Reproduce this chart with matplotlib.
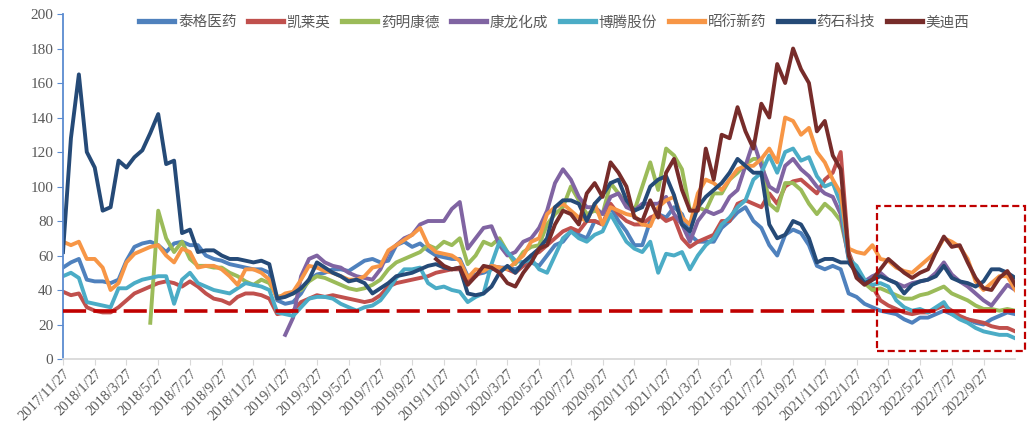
import numpy as np
import matplotlib
matplotlib.use('Agg')
import matplotlib.pyplot as plt
from matplotlib.patches import Rectangle

# ============================================================
#  Data: PE (TTM), sampled twice a month from 2017/11/27
# ============================================================

names = ['泰格医药', '凯莱英', '药明康德', '康龙化成', '博腾股份', '昭衍新药', '药石科技', '美迪西']
colors = ['#4f81bd', '#c0504d', '#9bbb59', '#8064a2', '#4bacc6', '#f79646', '#254a77', '#772c2a']

tigermed = [53, 56, 58, 46, 45, 45, 44, 46, 57, 65,
            67, 68, 66, 62, 67, 68, 66, 66, 60, 58,
            57, 55, 54, 53, 52, 52, 50, 34, 32, 33,
            38, 46, 49, 50, 52, 52, 51, 54, 57, 58,
            56, 57, 66, 68, 65, 67, 63, 60, 59, 58,
            58, 48, 49, 50, 52, 53, 53, 52, 54, 56,
            54, 60, 66, 68, 74, 72, 70, 80, 78, 88,
            80, 74, 66, 66, 80, 84, 82, 88, 84, 72,
            68, 68, 68, 76, 80, 85, 88, 80, 76, 66,
            60, 72, 75, 73, 66, 54, 52, 54, 52, 38,
            36, 32, 30, 28, 27, 26, 23, 21, 24, 24,
            26, 28, 26, 24, 23, 21, 20, 23, 25, 27, 26]

asymchem = [39, 37, 38, 30, 28, 27, 27, 30, 34, 38,
            40, 42, 44, 45, 44, 42, 45, 42, 38, 35,
            34, 32, 36, 38, 38, 37, 35, 26, 27, 28,
            33, 35, 37, 36, 37, 36, 35, 34, 33, 34,
            37, 42, 44, 45, 46, 47, 48, 50, 51, 52,
            52, 46, 48, 52, 54, 53, 52, 50, 54, 60,
            62, 66, 70, 74, 76, 74, 80, 80, 78, 90,
            84, 80, 78, 78, 82, 84, 80, 82, 70, 65,
            68, 70, 72, 80, 80, 90, 92, 90, 88, 96,
            90, 100, 103, 104, 100, 96, 104, 108, 120, 62,
            50, 44, 42, 34, 31, 29, 27, 26, 27, 27,
            29, 31, 28, 25, 23, 22, 21, 19, 18, 18, 16]

wuxi = [None] * 11 + [21, 86, 70, 62, 68, 58, 54, 54, 53,
        53, 50, 48, 45, 43, 46, 44, 36, 37, 38,
        40, 45, 48, 47, 45, 43, 41, 40, 41, 43,
        46, 52, 56, 58, 60, 62, 66, 64, 68, 66,
        70, 55, 60, 68, 66, 70, 62, 55, 62, 65,
        66, 78, 84, 88, 100, 92, 84, 86, 84, 102,
        96, 90, 86, 100, 114, 98, 122, 118, 110, 86,
        88, 86, 96, 96, 104, 108, 113, 116, 116, 90,
        86, 102, 102, 98, 90, 84, 90, 86, 80, 60,
        50, 44, 40, 41, 39, 37, 35, 35, 37, 38,
        40, 42, 38, 36, 34, 31, 29, 29, 28, 29, 28]

pharmaron = [None] * 28 + [14, 24,
             48, 58, 60, 56, 54, 53, 50, 48, 47, 46,
             52, 62, 66, 70, 72, 78, 80, 80, 80, 87,
             91, 64, 70, 76, 77, 66, 60, 62, 68, 70,
             76, 86, 102, 110, 104, 94, 88, 88, 84, 94,
             96, 88, 86, 90, 90, 90, 94, 84, 78, 68,
             80, 86, 84, 86, 94, 98, 112, 126, 112, 100,
             97, 112, 116, 110, 106, 100, 96, 94, 84, 58,
             52, 45, 48, 50, 46, 44, 42, 44, 45, 46,
             50, 56, 49, 45, 42, 38, 34, 31, 37, 43, 40]

porton = [48, 50, 47, 33, 32, 31, 30, 41, 41, 44,
          46, 47, 48, 48, 32, 46, 50, 44, 42, 40,
          39, 38, 41, 44, 43, 42, 40, 27, 26, 25,
          30, 35, 36, 36, 35, 32, 30, 28, 30, 31,
          34, 40, 47, 52, 52, 53, 44, 41, 42, 40,
          39, 33, 36, 38, 55, 68, 62, 57, 56, 58,
          52, 50, 60, 70, 74, 70, 68, 72, 74, 84,
          76, 68, 64, 62, 68, 50, 61, 60, 62, 52,
          60, 66, 70, 78, 82, 88, 92, 104, 108, 118,
          108, 120, 122, 115, 117, 106, 100, 102, 90, 58,
          54, 46, 43, 44, 42, 34, 30, 28, 29, 27,
          30, 33, 26, 23, 21, 18, 16, 15, 14, 14, 12]

joinn = [68, 66, 68, 58, 58, 53, 40, 44, 56, 61,
         63, 65, 66, 60, 56, 64, 62, 53, 54, 54,
         52, 48, 43, 52, 52, 50, 46, 35, 38, 39,
         46, 54, 53, 51, 50, 48, 46, 46, 48, 53,
         54, 63, 66, 69, 72, 76, 66, 62, 61, 60,
         57, 47, 52, 51, 54, 53, 52, 56, 60, 68,
         70, 84, 88, 90, 86, 82, 80, 90, 78, 88,
         86, 84, 83, 78, 77, 88, 92, 94, 82, 78,
         96, 104, 102, 98, 104, 110, 112, 112, 116, 122,
         114, 140, 138, 130, 134, 120, 114, 104, 96, 64,
         62, 61, 66, 58, 57, 53, 51, 50, 54, 58,
         62, 70, 68, 65, 58, 45, 40, 44, 48, 48, 40]

pharmablock = [62, 128, 165, 120, 111, 86, 88, 115, 111, 117,
               121, 131, 142, 113, 115, 73, 75, 62, 63, 63,
               60, 58, 58, 57, 56, 57, 55, 35, 36, 38,
               41, 46, 56, 53, 50, 48, 45, 46, 44, 38,
               41, 44, 48, 49, 50, 52, 54, 55, 53, 52,
               53, 38, 37, 38, 42, 50, 54, 50, 56, 60,
               64, 70, 88, 92, 92, 90, 80, 90, 95, 102,
               104, 92, 86, 88, 100, 104, 106, 95, 78, 74,
               88, 94, 98, 102, 108, 116, 112, 108, 108, 78,
               70, 72, 80, 78, 70, 56, 58, 58, 56, 56,
               50, 44, 46, 48, 46, 44, 38, 43, 45, 46,
               48, 54, 47, 45, 44, 42, 45, 52, 52, 50, 47]

medicilon = [None] * 47 + [58, 54, 52,
             53, 43, 48, 54, 53, 50, 44, 42, 50, 56,
             64, 66, 78, 86, 84, 78, 96, 102, 94, 114,
             108, 100, 82, 80, 92, 82, 108, 116, 98, 86,
             86, 122, 104, 130, 128, 146, 132, 122, 148, 140,
             171, 160, 180, 168, 160, 132, 138, 118, 110, 60,
             47, 43, 46, 52, 58, 54, 50, 47, 50, 52,
             62, 71, 65, 66, 56, 47, 41, 40, 47, 51, 43]

series = [tigermed, asymchem, wuxi, pharmaron, porton, joinn, pharmablock, medicilon]

tick_labels = ['2017/11/27', '2018/1/27', '2018/3/27', '2018/5/27', '2018/7/27',
               '2018/9/27', '2018/11/27', '2019/1/27', '2019/3/27', '2019/5/27',
               '2019/7/27', '2019/9/27', '2019/11/27', '2020/1/27', '2020/3/27',
               '2020/5/27', '2020/7/27', '2020/9/27', '2020/11/27', '2021/1/27',
               '2021/3/27', '2021/5/27', '2021/7/27', '2021/9/27', '2021/11/27',
               '2022/1/27', '2022/3/27', '2022/5/27', '2022/7/27', '2022/9/27']
tick_step = 4          # two months = four half-month samples

pe_line = 28           # reference level
box = (102.6, 4.8, 121.2, 88.9)   # highlighted recent window (x0, y0, x1, y1)

# ============================================================
#  Plot
# ============================================================

plt.rcParams['font.family'] = ['Noto Sans CJK SC', 'DejaVu Sans']

fig = plt.figure(figsize=(10.36, 4.30), dpi=100)
ax = fig.add_axes([0.0608, 0.1651, 0.9192, 0.8023])

for vals, name, c in zip(series, names, colors):
    y = np.array([np.nan if v is None else v for v in vals], dtype=float)
    ax.plot(np.arange(len(y)), y, color=c, lw=2.8, label=name,
            solid_joinstyle='round')

hl = ax.axhline(pe_line, color='#c00000', lw=2.6, zorder=5)
hl.set_dashes((6.4, 2.0))

x0, y0, x1, y1 = box
rect = Rectangle((x0, y0), x1 - x0, y1 - y0, fill=False, edgecolor='#c00000',
                 lw=1.6, ls=(0, (3.2, 1.6)), clip_on=False, zorder=6)
ax.add_patch(rect)

ax.set_xlim(0, 120)
ax.set_ylim(0, 200)
ax.set_yticks(np.arange(0, 201, 20))
ax.set_xticks(np.arange(len(tick_labels)) * tick_step)
ax.set_xticklabels(tick_labels, rotation=45, ha='right', va='top',
                   rotation_mode='anchor', family='Liberation Serif',
                   fontsize=10.5, color='#595959')
for lab in ax.get_yticklabels():
    lab.set_family('Liberation Serif')
    lab.set_fontsize(11)
    lab.set_color('#595959')

for side in ('top', 'right'):
    ax.spines[side].set_visible(False)
ax.spines['left'].set_color('#5b8bd0')
ax.spines['left'].set_linewidth(1.3)
ax.spines['bottom'].set_color('#d9d9d9')
ax.spines['bottom'].set_linewidth(1.3)
ax.tick_params(axis='y', direction='out', length=4, color='#5b8bd0', pad=3)
ax.tick_params(axis='x', direction='out', length=4, color='#d9d9d9', pad=2)

leg = fig.legend(loc='center', bbox_to_anchor=(0.535, 0.948), ncol=8,
                 frameon=False, fontsize=10.5, handlelength=2.4,
                 handletextpad=0.25, columnspacing=0.8)
for line in leg.get_lines():
    line.set_linewidth(3.8)
for t in leg.get_texts():
    t.set_color('#595959')

fig.savefig('out.png', dpi=100)
